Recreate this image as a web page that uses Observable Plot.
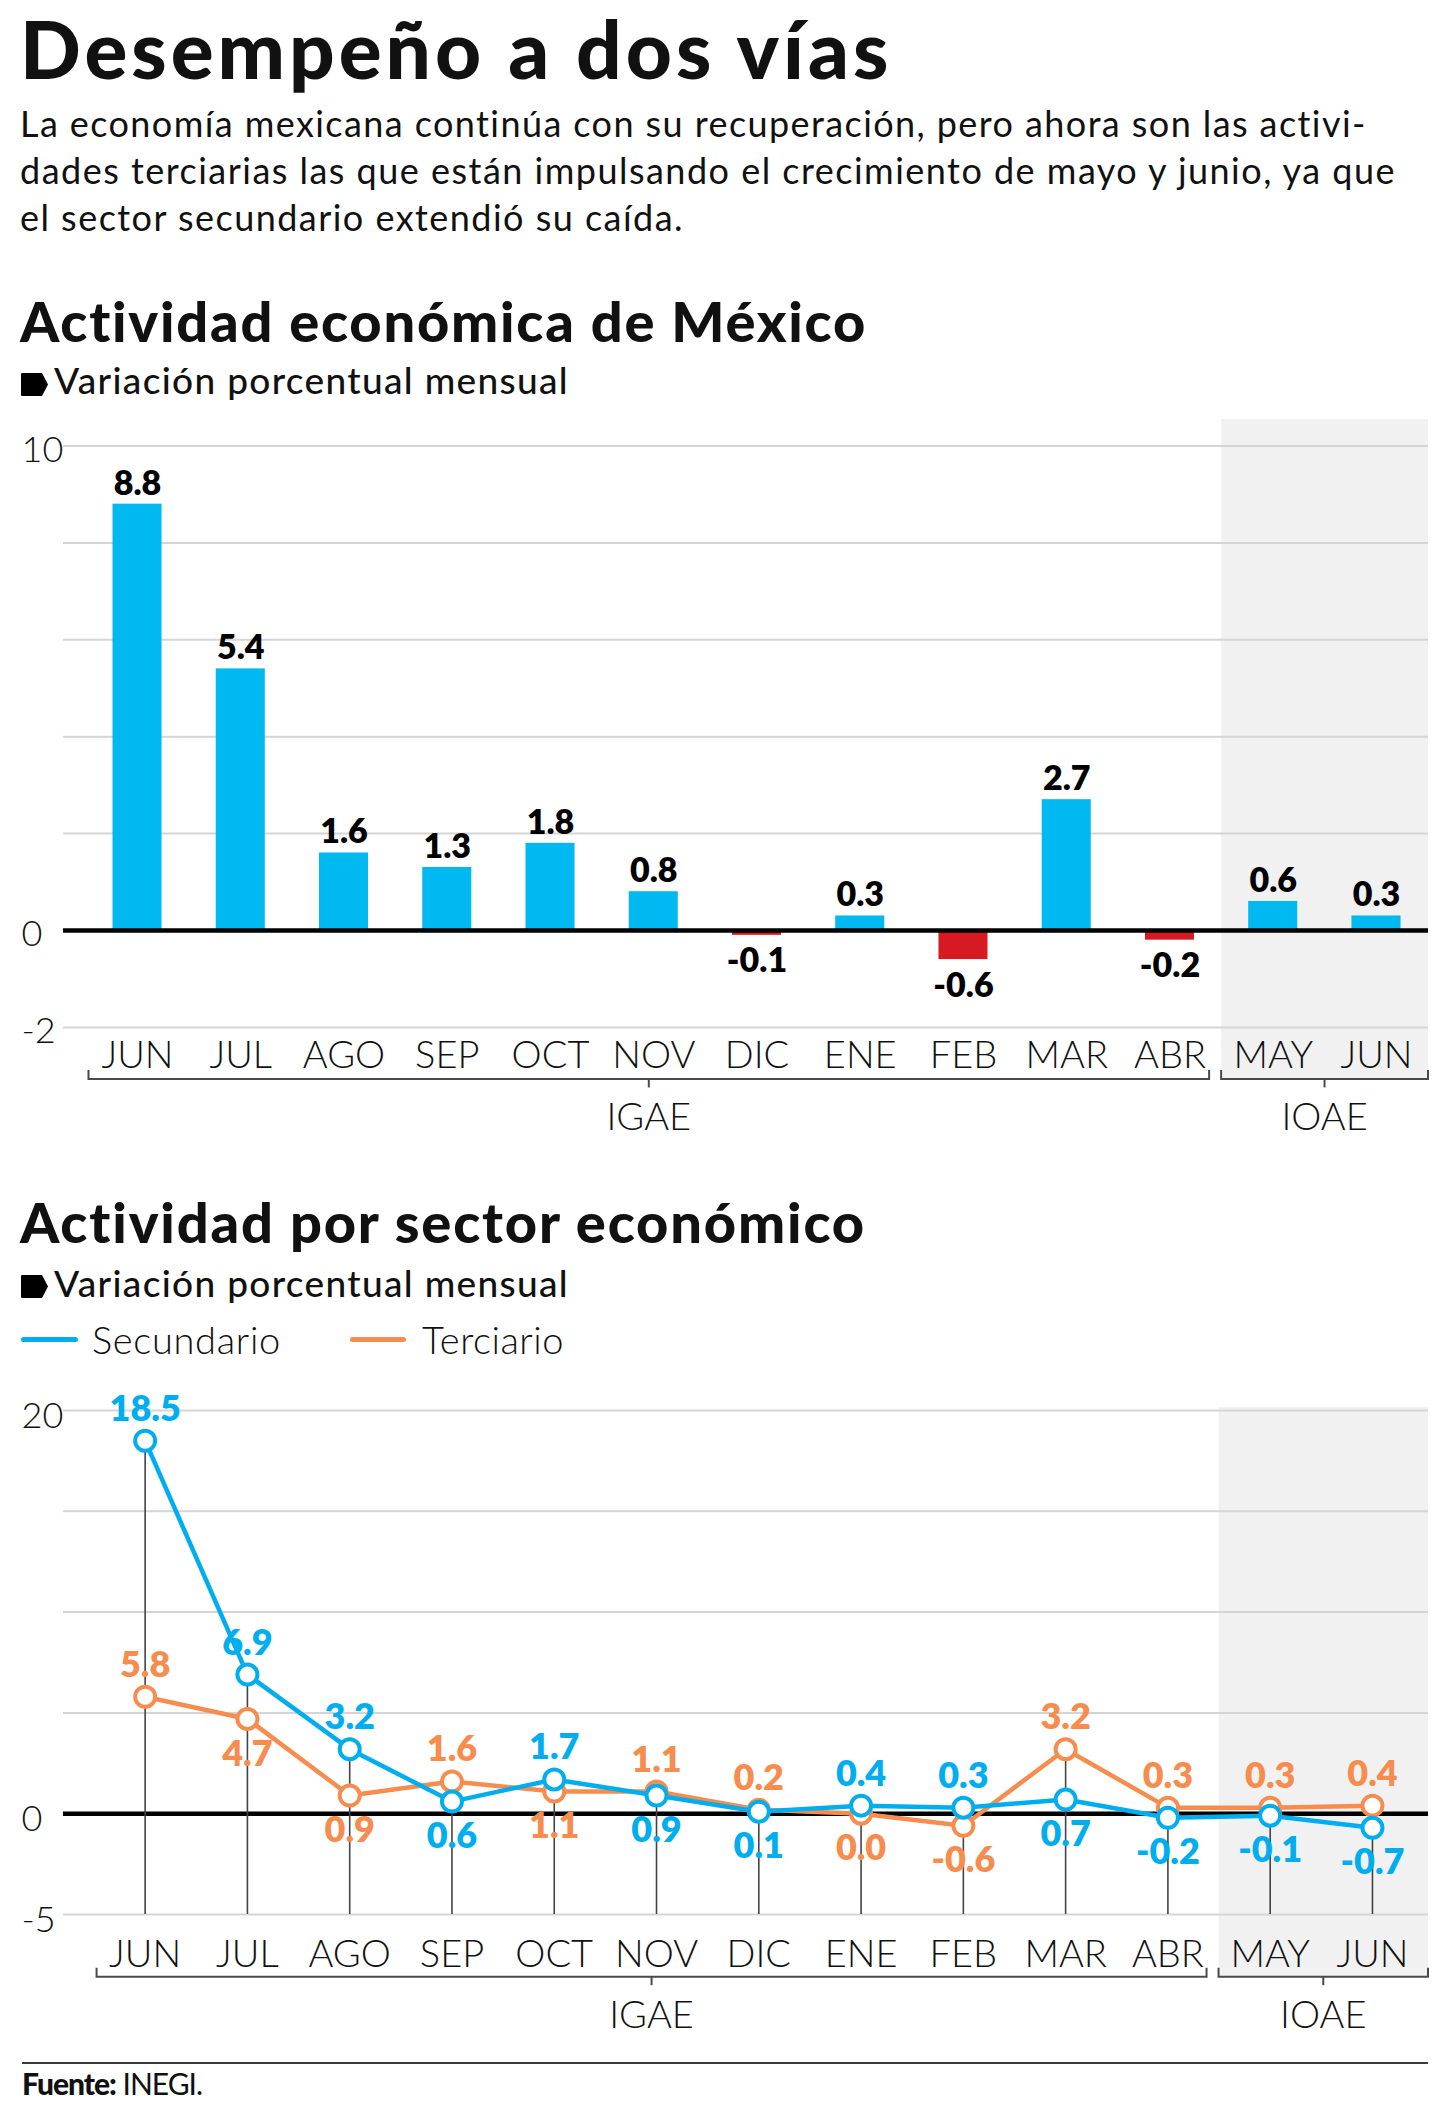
<!DOCTYPE html>
<html>
<head>
<meta charset="utf-8">
<script src="https://cdn.jsdelivr.net/npm/d3@7"></script>
<script src="https://cdn.jsdelivr.net/npm/@observablehq/plot@0.6"></script>
<style>
html, body { margin: 0; padding: 0; background: #fff; }
#page { position: relative; width: 1440px; height: 2123px; overflow: hidden; font-family: Lato, "Noto Sans", sans-serif; color: #111; }
.t { position: absolute; white-space: nowrap; line-height: 1.2; }
.chart { position: absolute; left: 0; }
.legline { position: absolute; height: 5px; border-radius: 3px; }
</style>
</head>
<body>
<div id="page"></div>
<script>
// ---------- data ----------
const months = ["JUN", "JUL", "AGO", "SEP", "OCT", "NOV", "DIC", "ENE", "FEB", "MAR", "ABR", "MAY", "JUN"];
const igae = [8.8, 5.4, 1.6, 1.3, 1.8, 0.8, -0.1, 0.3, -0.6, 2.7, -0.2, 0.6, 0.3];
const secundario = [18.5, 6.9, 3.2, 0.6, 1.7, 0.9, 0.1, 0.4, 0.3, 0.7, -0.2, -0.1, -0.7];
const terciario = [5.8, 4.7, 0.9, 1.6, 1.1, 1.1, 0.2, 0.0, -0.6, 3.2, 0.3, 0.3, 0.4];
const secLabelPos = ["up", "up", "up", "down", "up", "down", "down", "up", "up", "down", "down", "down", "down"];
const terLabelPos = ["up", "down", "down", "up", "down", "up", "up", "down", "down", "up", "up", "up", "up"];
const groupNames = ["IGAE", "IOAE"];
const groupFirst = [0, 11];
const groupLast = [10, 12];
const grid1 = [-2, 0, 2, 4, 6, 8, 10];
const tickLabels1 = [-2, 0, 10];
const grid2 = [-5, 0, 5, 10, 15, 20];
const tickLabels2 = [-5, 0, 20];
const paraLines = [
  "La economía mexicana continúa con su recuperación, pero ahora son las activi-",
  "dades terciarias las que están impulsando el crecimiento de mayo y junio, ya que",
  "el sector secundario extendió su caída."
];

const keys = d3.range(months.length);
const BLUE = "#00b9f1", RED = "#d71a22", SEC = "#00aeef", TER = "#f68d4f";
const FONT = "Lato, 'Noto Sans', sans-serif";

const page = document.getElementById("page");
const ASC = 0.987; // baseline offset for Lato with line-height 1.2
function addText(html, o) {
  const d = document.createElement("div");
  d.className = "t";
  const s = document.createElement("span");
  s.innerHTML = html;
  d.appendChild(s);
  d.style.left = (o.x ?? 20) + "px";
  d.style.top = Math.max(0, o.baseline - ASC * o.size) + "px";
  d.style.fontSize = o.size + "px";
  d.style.fontWeight = o.weight ?? 400;
  page.appendChild(d);
  if (o.width) {
    const w = s.getBoundingClientRect().width;
    const n = s.textContent.length;
    let ls = (o.width - w) / n;
    ls = Math.max(-4, Math.min(4, ls));
    s.style.letterSpacing = ls + "px";
  }
  return d;
}
function addBullet(top) {
  const ns = "http://www.w3.org/2000/svg";
  const svg = document.createElementNS(ns, "svg");
  svg.setAttribute("width", 30); svg.setAttribute("height", 26);
  svg.style.position = "absolute"; svg.style.left = "21px"; svg.style.top = top + "px";
  const p = document.createElementNS(ns, "path");
  p.setAttribute("d", "M1,0 H21 L27,11.5 L21,23 H1 Q0,23 0,22 V1 Q0,0 1,0 Z");
  p.setAttribute("fill", "#000");
  svg.appendChild(p);
  page.appendChild(svg);
}
function addLegendLine(x, w, color) {
  const d = document.createElement("div");
  d.className = "legline";
  d.style.left = x + "px"; d.style.top = "1337px"; d.style.width = w + "px"; d.style.background = color;
  page.appendChild(d);
}

// ---------- header ----------
addText("Desempeño a dos vías", {baseline: 79, size: 80, weight: 900, width: 884});
addText(paraLines[0], {baseline: 138, size: 36, weight: 400, width: 1348});
addText(paraLines[1], {baseline: 185, size: 36, weight: 400, width: 1376});
addText(paraLines[2], {baseline: 232, size: 36, weight: 400, width: 664});
addText("Actividad económica de México", {baseline: 342, size: 56, weight: 900, width: 848});
addBullet(373);
addText("Variación porcentual mensual", {x: 54, baseline: 395, size: 37, weight: 500, width: 515});

addText("Actividad por sector económico", {baseline: 1243, size: 56, weight: 900, width: 847});
addBullet(1275);
addText("Variación porcentual mensual", {x: 54, baseline: 1298, size: 37, weight: 500, width: 515});
addLegendLine(21, 57, SEC);
addText("Secundario", {x: 92, baseline: 1355, size: 38, weight: 300, width: 189});
addLegendLine(350, 56, TER);
addText("Terciario", {x: 422, baseline: 1355, size: 38, weight: 300, width: 142});

// separator + source
const sep = document.createElement("div");
sep.style.cssText = "position:absolute;left:22px;top:2062px;width:1406px;height:2px;background:#3a3a3a;";
page.appendChild(sep);
addText("<b style='font-weight:900'>Fuente:</b> INEGI.", {x: 22, baseline: 2095, size: 30, weight: 400, width: 180});

// ---------- custom scale-driven annotation marks ----------
const NS = "http://www.w3.org/2000/svg";
function el(name, attrs) {
  const e = document.createElementNS(NS, name);
  for (const k in attrs) e.setAttribute(k, attrs[k]);
  return e;
}
function center(X, k) { return X(k) + X.bandwidth() / 2; }

// shaded band behind the IOAE months
function shadeMark(firstKey, topPad, bottomPad) {
  return (index, scales, values, dims) => {
    const X = scales.x;
    const x0 = center(X, firstKey) - X.step() / 2;
    const x1 = dims.width - dims.marginRight;
    const y0 = dims.marginTop - topPad;
    const y1 = dims.height - dims.marginBottom + bottomPad;
    const g = el("g", {});
    g.appendChild(el("rect", {x: x0, y: y0, width: x1 - x0, height: y1 - y0, fill: "#f1f1f1"}));
    return g;
  };
}

// group brackets under the axis
function bracketMark(lineOffset) {
  return (index, scales, values, dims) => {
    const X = scales.x;
    const step = X.step();
    const yl = dims.height - dims.marginBottom + lineOffset;
    const g = el("g", {fill: "none", stroke: "#4a4a4a", "stroke-width": 2});
    groupNames.forEach((name, gi) => {
      const f = groupFirst[gi], l = groupLast[gi];
      const left = gi === 0 ? center(X, f) - 0.47 * step : center(X, f) - step / 2;
      const right = gi === groupNames.length - 1 ? dims.width - dims.marginRight : center(X, l) + step / 2 - 12;
      const mid = (left + right) / 2;
      g.appendChild(el("path", {d: `M${left},${yl - 9}V${yl}H${right}V${yl - 9}`}));
      g.appendChild(el("path", {d: `M${mid},${yl}V${yl + 8.5}`}));
      const t = el("text", {x: mid, y: yl + 51, "text-anchor": "middle", fill: "#111", stroke: "none",
        "font-size": 38, "font-weight": 300, "font-family": FONT});
      t.textContent = name;
      g.appendChild(t);
    });
    return g;
  };
}

const plainNum = d => String(d);

// ---------- chart 1: bars ----------
const chart1 = Plot.plot({
  width: 1440,
  height: 745,
  marginLeft: 63,
  marginRight: 12,
  marginTop: 45.5,
  marginBottom: 118.1,
  style: {fontFamily: FONT, background: "transparent", overflow: "visible"},
  x: {type: "band", domain: keys, range: [85.4, 1427.6], paddingInner: 0.525, paddingOuter: 0.2625, round: false},
  y: {domain: d3.extent(grid1)},
  color: {type: "identity"},
  marks: [
    shadeMark(11, 26.5, 52),
    Plot.gridY({ticks: grid1, stroke: "#d5d5d5", strokeOpacity: 1, strokeWidth: 2}),
    Plot.barY(keys, {x: i => i, y: i => igae[i], fill: i => igae[i] >= 0 ? BLUE : RED}),
    Plot.ruleY([0], {stroke: "#000", strokeWidth: 4.5}),
    Plot.text(keys, {filter: i => igae[i] >= 0, x: i => i, y: i => igae[i], text: i => igae[i].toFixed(1),
      lineAnchor: "bottom", dy: -9.6, fontSize: 34, fontWeight: 800, fill: "#000"}),
    Plot.text(keys, {filter: i => igae[i] < 0, x: i => i, y: i => igae[i], text: i => igae[i].toFixed(1),
      lineAnchor: "top", dy: 13, fontSize: 34, fontWeight: 800, fill: "#000"}),
    Plot.axisY({ticks: tickLabels1, tickFormat: plainNum, tickSize: 0, tickPadding: 42, textAnchor: "start",
      fontSize: 36, fontWeight: 300, dy: 4, label: null, color: "#111"}),
    Plot.axisX({tickSize: 0, tickPadding: 14, fontSize: 38, fontWeight: 300, tickFormat: i => months[i],
      label: null, color: "#111"}),
    bracketMark(52)
  ]
});
const c1 = document.createElement("div");
c1.className = "chart"; c1.style.top = "400px";
c1.appendChild(chart1);
page.appendChild(c1);

// ---------- chart 2: lines ----------
const chart2 = Plot.plot({
  width: 1440,
  height: 650,
  marginLeft: 63,
  marginRight: 12,
  marginTop: 20,
  marginBottom: 126,
  style: {fontFamily: FONT, background: "transparent", overflow: "visible"},
  x: {type: "band", domain: keys, range: [93.5, 1423.1], padding: 0, round: false},
  y: {domain: d3.extent(grid2)},
  marks: [
    shadeMark(11, 3, 62.7),
    Plot.gridY({ticks: grid2, stroke: "#d5d5d5", strokeOpacity: 1, strokeWidth: 2}),
    Plot.ruleY([0], {stroke: "#000", strokeWidth: 4.5}),
    Plot.ruleX(keys, {x: i => i, y1: d3.min(grid2), y2: i => Math.max(secundario[i], terciario[i]),
      stroke: "#444", strokeWidth: 1.6}),
    Plot.text(keys, {filter: i => terLabelPos[i] === "up", x: i => i, y: i => terciario[i], text: i => terciario[i].toFixed(1),
      lineAnchor: "bottom", dy: -20, fontSize: 36, fontWeight: 800, fill: TER}),
    Plot.text(keys, {filter: i => terLabelPos[i] === "down", x: i => i, y: i => terciario[i], text: i => terciario[i].toFixed(1),
      lineAnchor: "top", dy: 21, fontSize: 36, fontWeight: 800, fill: TER}),
    Plot.text(keys, {filter: i => secLabelPos[i] === "up", x: i => i, y: i => secundario[i], text: i => secundario[i].toFixed(1),
      lineAnchor: "bottom", dy: -20, fontSize: 36, fontWeight: 800, fill: SEC}),
    Plot.text(keys, {filter: i => secLabelPos[i] === "down", x: i => i, y: i => secundario[i], text: i => secundario[i].toFixed(1),
      lineAnchor: "top", dy: 21, fontSize: 36, fontWeight: 800, fill: SEC}),
    Plot.lineY(keys, {x: i => i, y: i => terciario[i], stroke: TER, strokeWidth: 4.5}),
    Plot.dot(keys, {x: i => i, y: i => terciario[i], r: 10, stroke: TER, strokeWidth: 4, fill: "#fff"}),
    Plot.lineY(keys, {x: i => i, y: i => secundario[i], stroke: SEC, strokeWidth: 4.5}),
    Plot.dot(keys, {x: i => i, y: i => secundario[i], r: 10, stroke: SEC, strokeWidth: 4, fill: "#fff"}),
    Plot.axisY({ticks: tickLabels2, tickFormat: plainNum, tickSize: 0, tickPadding: 42, textAnchor: "start",
      fontSize: 36, fontWeight: 300, dy: 6, label: null, color: "#111"}),
    Plot.axisX({tickSize: 0, tickPadding: 26, fontSize: 38, fontWeight: 300, tickFormat: i => months[i],
      label: null, color: "#111"}),
    bracketMark(62.7)
  ]
});
const c2 = document.createElement("div");
c2.className = "chart"; c2.style.top = "1390px";
c2.appendChild(chart2);
page.appendChild(c2);
</script>
</body>
</html>
